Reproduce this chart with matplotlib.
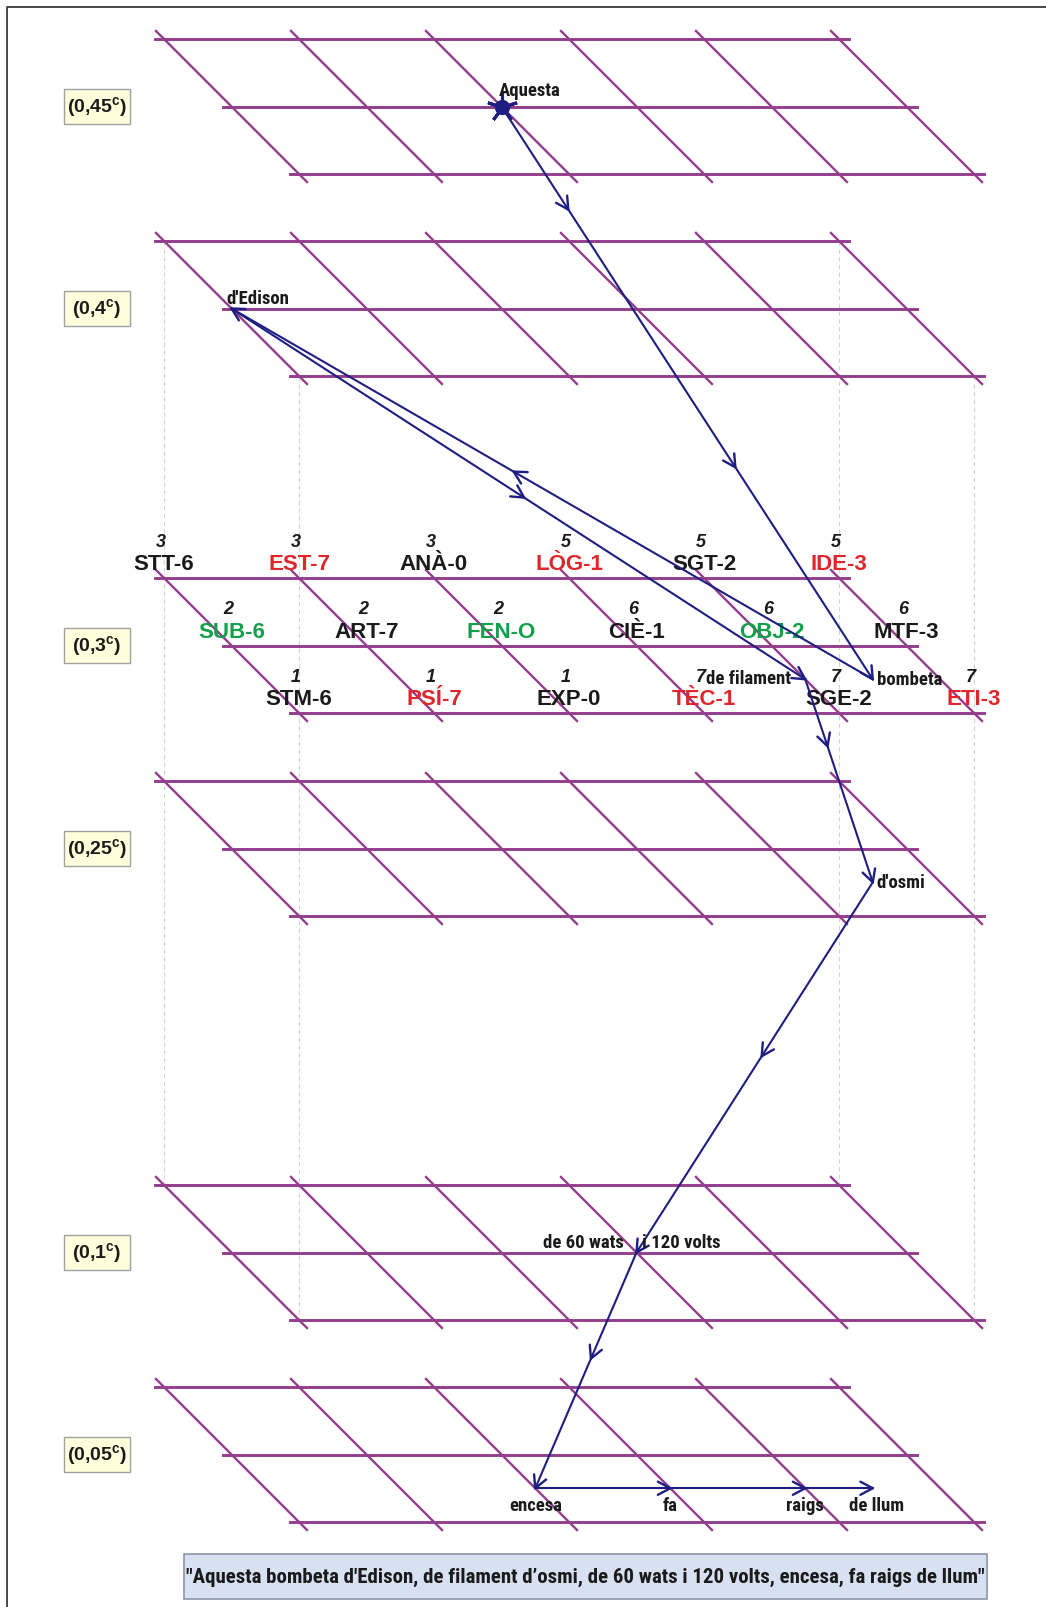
"""Recorregut d'una frase sobre plans obliqus de nivells (0,45c ... 0,05c)."""

import matplotlib

matplotlib.use("Agg")

import matplotlib.pyplot as plt
import numpy as np
from matplotlib.patches import Rectangle

plt.rcParams["mathtext.fontset"] = "custom"
plt.rcParams["mathtext.rm"] = "Liberation Sans:bold"

# --- dades -----------------------------------------------------------------
PLANE_LABELS = ["0,45", "0,4", "0,3", "0,25", "0,1", "0,05"]

CODE_ROWS = [
    ["STT-6", "EST-7", "ANÀ-0", "LÒG-1", "SGT-2", "IDE-3"],
    ["SUB-6", "ART-7", "FEN-O", "CIÈ-1", "OBJ-2", "MTF-3"],
    ["STM-6", "PSÍ-7", "EXP-0", "TÈC-1", "SGE-2", "ETI-3"],
]
CODE_WEIGHTS = [
    [3, 3, 3, 5, 5, 5],
    [2, 2, 2, 6, 6, 6],
    [1, 1, 1, 7, 7, 7],
]
CODE_KINDS = [
    ["k", "r", "k", "r", "k", "r"],
    ["g", "k", "g", "k", "g", "k"],
    ["k", "r", "k", "r", "k", "r"],
]

# paraules del recorregut: pla, columna, fila (en coordenades de la graella)
PATH_WORDS = ["Aquesta", "bombeta", "d'Edison", "de filament", "d'osmi",
              "de 60 wats", "encesa", "fa", "raigs", "de llum"]
PATH_PLANE = [0, 2, 1, 2, 3, 4, 5, 5, 5, 5]
PATH_COL = [2, 4.5, 0, 4, 4.5, 3, 2, 3, 4, 4.5]
PATH_ROW = [1, 1.5, 1, 1.5, 1.5, 1, 1.5, 1.5, 1.5, 1.5]
EXTRA_WORD = "i 120 volts"

CAPTION = "\"Aquesta bombeta d'Edison, de filament d\u2019osmi, de 60 wats i 120 volts, encesa, fa raigs de llum\""

# --- estil i geometria -----------------------------------------------------
W, H = 1046, 1607
PLANE_TOP = [39, 241, 578, 781, 1185, 1387]
X0, COL, ROW = 164, 135, 67.5
GRID_C = "#933d8c"
ARROW_C = "#1e1e82"
CODE_COLORS = {"k": "#1a1a1a", "r": "#e0262b", "g": "#13a04a"}
NARROW = ["Roboto Condensed", "DejaVu Sans"]
ARIAL = ["Liberation Sans", "DejaVu Sans"]
# posició de les puntes intermèdies (fracció del segment)
MID_T = [[0.18, 0.63], [0.56], [0.51], [0.33], [0.47], [0.45], [], [], []]


def node(plane, u, v):
    return X0 + COL * u + ROW * v, PLANE_TOP[plane] + ROW * v


def vhead(ax, tip, direction, length=14, angle=28):
    d = np.asarray(direction, float)
    d = -d / np.hypot(*d)
    for sgn in (1, -1):
        a = np.radians(sgn * angle)
        rot = np.array([[np.cos(a), -np.sin(a)], [np.sin(a), np.cos(a)]])
        w = tip + length * rot @ d
        ax.plot([tip[0], w[0]], [tip[1], w[1]], color=ARROW_C, lw=1.7,
                solid_capstyle="round", zorder=6)


def draw_arrow(ax, p0, p1, mids):
    p0, p1 = np.asarray(p0, float), np.asarray(p1, float)
    ax.plot([p0[0], p1[0]], [p0[1], p1[1]], color=ARROW_C, lw=1.5, zorder=5)
    vhead(ax, p1, p1 - p0)
    for t in mids:
        vhead(ax, p0 + t * (p1 - p0), p1 - p0)


fig = plt.figure(figsize=(W / 100, H / 100), dpi=100)
ax = fig.add_axes([0, 0, 1, 1])
ax.set_xlim(0, W)
ax.set_ylim(H, 0)
ax.axis("off")

# marc
ax.plot([7, 7, W + 5], [H + 5, 7, 7], color="#3a3a3a", lw=1.3, zorder=1)

# línies verticals discontínues entre els plans 2 i 5
for u, v in [(0, 0), (0, 2), (5, 0), (5, 2)]:
    x, y1 = node(1, u, v)
    _, y2 = node(4, u, v)
    ax.plot([x, x], [y1, y2], color="#d4d4d4", lw=0.8, ls=(0, (4, 3)), zorder=0)

# graelles obliqües
for p, label in enumerate(PLANE_LABELS):
    for v in range(3):
        xl, y = node(p, 0, v)
        xr, _ = node(p, 5, v)
        ax.plot([xl - 9, xr + 10], [y, y], color=GRID_C, lw=2.1, zorder=2)
    for u in range(6):
        xa, ya = node(p, u, 0)
        xb, yb = node(p, u, 2)
        ax.plot([xa - 8, xb + 8], [ya - 8, yb + 8], color=GRID_C, lw=1.7, zorder=2)
    ym = node(p, 0, 1)[1]
    ax.add_patch(Rectangle((64, ym - 17.5), 66, 35, facecolor="#ffffdc",
                           edgecolor="#a0a0a0", lw=1.0, zorder=3))
    ax.text(97, ym + 1, f"({label}$^{{\\rm c}}$)", ha="center", va="center",
            fontsize=14, fontweight="bold", family=ARIAL, color="#1a1a1a", zorder=4)

# etiquetes del pla (0,3c)
for v, row in enumerate(CODE_ROWS):
    for u, code in enumerate(row):
        x, y = node(2, u, v)
        ax.text(x, y - 8, code, ha="center", va="baseline", fontsize=16,
                fontweight="bold", family=ARIAL,
                color=CODE_COLORS[CODE_KINDS[v][u]], zorder=4)
        ax.text(x - 3, y - 31, str(CODE_WEIGHTS[v][u]), ha="center", va="baseline",
                fontsize=13, fontweight="bold", fontstyle="italic", family=ARIAL,
                color="#1a1a1a", zorder=4)

# recorregut
pts = [np.array(node(p, u, v)) for p, u, v in zip(PATH_PLANE, PATH_COL, PATH_ROW)]
for i in range(len(pts) - 1):
    draw_arrow(ax, pts[i], pts[i + 1], MID_T[i])
ax.plot(*pts[0], marker="o", ms=10, color=ARROW_C, zorder=7)
ax.plot(*pts[0], marker=(5, 2, 0), ms=22, mew=2.2, color=ARROW_C, zorder=7)

word_kw = dict(fontsize=13.5, fontweight="bold", family=NARROW, fontstretch="condensed",
               color="#1a1a1a", zorder=8)
placements = [
    (-3, -11, "left", "baseline"),
    (4, 1, "left", "center"),
    (-5, -5, "left", "baseline"),
    (-14, 0, "right", "center"),
    (4, 1, "left", "center"),
    (-13, -4, "right", "baseline"),
    (0, 9, "center", "top"),
    (0, 9, "center", "top"),
    (0, 9, "center", "top"),
    (4, 9, "center", "top"),
]
for word, (x, y), (dx, dy, ha, va) in zip(PATH_WORDS, pts, placements):
    ax.text(x + dx, y + dy, word, ha=ha, va=va, **word_kw)
x, y = pts[5]
ax.text(x + 6, y - 4, EXTRA_WORD, ha="left", va="baseline", **word_kw)

# peu
ax.add_patch(Rectangle((184, 1554), 803, 45, facecolor="#d8e1f2",
                       edgecolor="#8c96a8", lw=1.2, zorder=3))
ax.text(585, 1577, CAPTION, ha="center", va="center", fontsize=15,
        fontweight="bold", family=NARROW, fontstretch="condensed",
        color="#1a1a1a", zorder=4)

fig.savefig("out.png", dpi=100)
plt.close(fig)
